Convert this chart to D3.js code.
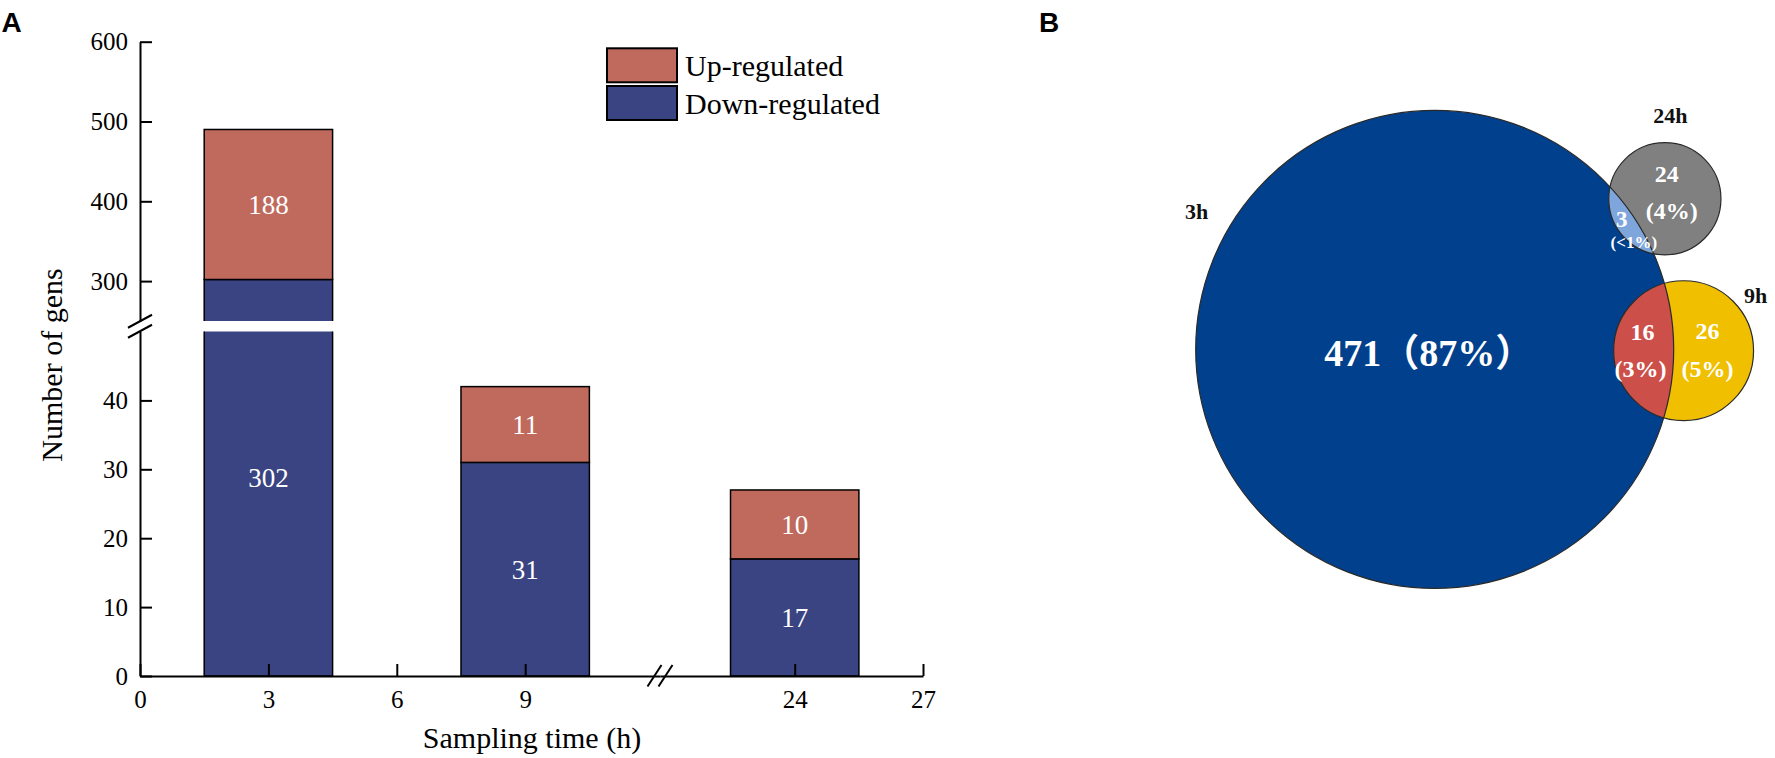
<!DOCTYPE html>
<html>
<head>
<meta charset="utf-8">
<script src="https://cdn.jsdelivr.net/npm/d3@7"></script>
<style>
  body { margin: 0; background: #fff; }
  svg { display: block; }
</style>
</head>
<body>
<svg id="chart" width="1775" height="758"></svg>
<script>
// ---- panel A data ----
var hours = [3, 9, 24];
var downRegulated = [302, 31, 17];
var upRegulated = [188, 11, 10];
var yTicksTop = [300, 400, 500, 600];
var yTicksBottom = [0, 10, 20, 30, 40];
var xTicksLeft = [0, 3, 6, 9];
var xTicksRight = [24, 27];
var legendLabels = ["Up-regulated", "Down-regulated"];

// ---- panel B data ----
var vennSets = ["3h", "24h", "9h"];
var vennUnique = [471, 24, 26];   // only 3h, only 24h, only 9h
var vennShared = [3, 16];         // 3h & 24h, 3h & 9h

var serif = "'Liberation Serif', 'Times New Roman', serif";
var upColor = "#c06a5e", downColor = "#3b4482";

var svg = d3.select("#chart");

// panel letters
svg.append("text").attr("x", 1.5).attr("y", 31.5).text("A")
  .attr("font-family", "'Liberation Sans', Arial, sans-serif").attr("font-weight", "bold").attr("font-size", 28);
svg.append("text").attr("x", 1039).attr("y", 32).text("B")
  .attr("font-family", "'Liberation Sans', Arial, sans-serif").attr("font-weight", "bold").attr("font-size", 28);

// ================= PANEL A : broken-axis stacked bars =================
// two y pieces (top 250-600, bottom 0-50) and two x pieces (0-12, 21-27)
var yTop = d3.scaleLinear().domain([250, 600]).range([321, 41.7]);
var yBot = d3.scaleLinear().domain([0, 50]).range([676, 331.5]);
var xLeft = d3.scaleLinear().domain([0, 12.15]).range([140, 660]);
var xRight = d3.scaleLinear().domain([20.85, 27]).range([660, 923]);

function xPos(h) { return h < 15 ? xLeft(h) : xRight(h); }
function screenY(v) { return v > 50 ? yTop(v) : yBot(v); }
var barW = xLeft(3) - xLeft(0);

var defs = svg.append("defs");
defs.append("clipPath").attr("id", "clipTop")
  .append("rect").attr("x", 0).attr("y", 0).attr("width", 1000).attr("height", yTop(250));
defs.append("clipPath").attr("id", "clipBot")
  .append("rect").attr("x", 0).attr("y", yBot(50)).attr("width", 1000).attr("height", 400);

// stack the segments
var segments = [];
hours.forEach(function (h, i) {
  segments.push({ h: h, y0: 0, y1: downRegulated[i], v: downRegulated[i], color: downColor });
  segments.push({ h: h, y0: downRegulated[i], y1: downRegulated[i] + upRegulated[i], v: upRegulated[i], color: upColor });
});

[[yTop, "clipTop"], [yBot, "clipBot"]].forEach(function (p) {
  var sc = p[0];
  svg.append("g").attr("clip-path", "url(#" + p[1] + ")")
    .selectAll("rect").data(segments).enter().append("rect")
    .attr("x", function (d) { return xPos(d.h) - barW / 2; })
    .attr("y", function (d) { return sc(d.y1); })
    .attr("width", barW)
    .attr("height", function (d) { return sc(d.y0) - sc(d.y1); })
    .attr("fill", function (d) { return d.color; })
    .attr("stroke", "#000").attr("stroke-width", 1.5);
});

// value labels, centred on the visible part of each segment
svg.append("g").selectAll("text").data(segments).enter().append("text")
  .attr("x", function (d) { return xPos(d.h); })
  .attr("y", function (d) { return (screenY(d.y0) + screenY(d.y1)) / 2; })
  .attr("dy", "0.35em")
  .attr("text-anchor", "middle")
  .attr("fill", "#fff")
  .attr("font-family", serif).attr("font-size", 27)
  .text(function (d) { return d.v; });

// axes
function styleAxis(g) {
  g.attr("font-family", serif).attr("font-size", 25);
  g.selectAll("path, line").attr("stroke", "#000").attr("stroke-width", 2);
  g.selectAll("text").attr("fill", "#000");
}
var fmt = d3.format("d");
svg.append("g").attr("transform", "translate(140,0)")
  .call(d3.axisLeft(yTop).tickValues(yTicksTop).tickFormat(fmt).tickSize(-12).tickSizeOuter(0).tickPadding(12))
  .call(styleAxis);
svg.append("g").attr("transform", "translate(140,0)")
  .call(d3.axisLeft(yBot).tickValues(yTicksBottom).tickFormat(fmt).tickSize(-12).tickSizeOuter(0).tickPadding(12))
  .call(styleAxis);
svg.append("g").attr("transform", "translate(0,676)")
  .call(d3.axisBottom(xLeft).tickValues(xTicksLeft).tickFormat(fmt).tickSize(-12).tickSizeOuter(0).tickPadding(14))
  .call(styleAxis);
svg.append("g").attr("transform", "translate(0,676)")
  .call(d3.axisBottom(xRight).tickValues(xTicksRight).tickFormat(fmt).tickSize(-12).tickSizeOuter(0).tickPadding(14))
  .call(styleAxis);

// break marks "//"
var yBreak = (yTop(250) + yBot(50)) / 2;
[-5, 5].forEach(function (o) {
  svg.append("line").attr("x1", 128).attr("y1", yBreak + o + 6.5).attr("x2", 152).attr("y2", yBreak + o - 6.5)
    .attr("stroke", "#000").attr("stroke-width", 2);
});
var xBreak = xLeft.range()[1];
[-5.5, 5.5].forEach(function (o) {
  svg.append("line").attr("x1", xBreak + o - 7).attr("y1", 686.5).attr("x2", xBreak + o + 7).attr("y2", 665)
    .attr("stroke", "#000").attr("stroke-width", 2);
});

// axis titles
svg.append("text").attr("x", 532).attr("y", 747.5).attr("text-anchor", "middle")
  .attr("font-family", serif).attr("font-size", 30).text("Sampling time (h)");
svg.append("text").attr("transform", "translate(61.5,365) rotate(-90)").attr("text-anchor", "middle")
  .attr("font-family", serif).attr("font-size", 30).text("Number of gens");

// legend
var legend = svg.append("g").attr("transform", "translate(607,48.3)");
legend.selectAll("rect").data(legendLabels).enter().append("rect")
  .attr("x", 0).attr("y", function (d, i) { return i * 37.7; })
  .attr("width", 70).attr("height", 34)
  .attr("fill", function (d, i) { return i === 0 ? upColor : downColor; })
  .attr("stroke", "#000").attr("stroke-width", 2);
legend.selectAll("text").data(legendLabels).enter().append("text")
  .attr("x", 78).attr("y", function (d, i) { return 28 + i * 37.7; })
  .attr("font-family", serif).attr("font-size", 30)
  .text(function (d) { return d; });

// ================= PANEL B : area-proportional Venn =================
var totals = [
  vennUnique[0] + vennShared[0] + vennShared[1],
  vennUnique[1] + vennShared[0],
  vennUnique[2] + vennShared[1]
];
var allGenes = d3.sum(vennUnique) + d3.sum(vennShared);
var rScale = d3.scaleSqrt().domain([0, totals[0]]).range([0, 239]);
var areaPerGene = Math.PI * Math.pow(rScale(totals[0]), 2) / totals[0];

function lensArea(r1, r2, d) {
  if (d >= r1 + r2) return 0;
  if (d <= Math.abs(r1 - r2)) return Math.PI * Math.pow(Math.min(r1, r2), 2);
  var a = r1 * r1 * Math.acos((d * d + r1 * r1 - r2 * r2) / (2 * d * r1));
  var b = r2 * r2 * Math.acos((d * d + r2 * r2 - r1 * r1) / (2 * d * r2));
  var c = 0.5 * Math.sqrt((-d + r1 + r2) * (d + r1 - r2) * (d - r1 + r2) * (d + r1 + r2));
  return a + b - c;
}
function distanceFor(r1, r2, target) {
  var lo = Math.abs(r1 - r2), hi = r1 + r2;
  for (var k = 0; k < 60; k++) {
    var mid = (lo + hi) / 2;
    if (lensArea(r1, r2, mid) > target) lo = mid; else hi = mid;
  }
  return (lo + hi) / 2;
}

var c0 = [1434.7, 349.4];
var angles = [null, -33.2, 0.3];   // direction of the small circles from the 3h circle
var circles = totals.map(function (t, i) {
  var r = rScale(t);
  if (i === 0) return { name: vennSets[0], cx: c0[0], cy: c0[1], r: r };
  var d = distanceFor(rScale(totals[0]), r, vennShared[i - 1] * areaPerGene);
  var a = angles[i] * Math.PI / 180;
  return { name: vennSets[i], cx: c0[0] + d * Math.cos(a), cy: c0[1] + d * Math.sin(a), r: r };
});

var vennFill = ["#01408c", "#808080", "#efbf00"];
var sharedFill = ["#7ea6dc", "#cd4f4a"];

defs.append("clipPath").attr("id", "clip3h")
  .append("circle").attr("cx", circles[0].cx).attr("cy", circles[0].cy).attr("r", circles[0].r);

var venn = svg.append("g");
venn.selectAll("circle.set").data(circles).enter().append("circle").attr("class", "set")
  .attr("cx", function (d) { return d.cx; }).attr("cy", function (d) { return d.cy; })
  .attr("r", function (d) { return d.r; })
  .attr("fill", function (d, i) { return vennFill[i]; });
venn.selectAll("circle.shared").data(circles.slice(1)).enter().append("circle").attr("class", "shared")
  .attr("cx", function (d) { return d.cx; }).attr("cy", function (d) { return d.cy; })
  .attr("r", function (d) { return d.r; })
  .attr("clip-path", "url(#clip3h)")
  .attr("fill", function (d, i) { return sharedFill[i]; });
venn.selectAll("circle.edge").data(circles).enter().append("circle").attr("class", "edge")
  .attr("cx", function (d) { return d.cx; }).attr("cy", function (d) { return d.cy; })
  .attr("r", function (d) { return d.r; })
  .attr("fill", "none").attr("stroke", "#2a2a2a").attr("stroke-width", 1.2);

function pct(v) {
  var p = v / allGenes * 100;
  return p < 1 ? "<1%" : Math.round(p) + "%";
}

// labels: [circle index, dx, dy, text, size]
var vennLabels = [
  [0, -6, 17, vennUnique[0] + "\uFF08" + pct(vennUnique[0]) + "\uFF09", 38],
  [1, 2, -16.5, vennUnique[1], 24],
  [1, 7, 20, "(" + pct(vennUnique[1]) + ")", 24],
  [1, -43, 28, vennShared[0], 23],
  [1, -31, 49, "(" + pct(vennShared[0]) + ")", 17],
  [2, -41, -11, vennShared[1], 24],
  [2, -43, 26, "(" + pct(vennShared[1]) + ")", 24],
  [2, 24, -12, vennUnique[2], 24],
  [2, 24, 26, "(" + pct(vennUnique[2]) + ")", 24]
];
venn.selectAll("text.val").data(vennLabels).enter().append("text").attr("class", "val")
  .attr("x", function (d) { return circles[d[0]].cx + d[1]; })
  .attr("y", function (d) { return circles[d[0]].cy + d[2]; })
  .attr("text-anchor", "middle")
  .attr("fill", "#fff")
  .attr("font-family", serif + ", 'Noto Sans CJK SC'")
  .attr("font-weight", "bold")
  .attr("font-size", function (d) { return d[4]; })
  .text(function (d) { return d[3]; });

// set names
var nameOffsets = [[-238, -130], [5.5, -75.5], [72, -48]];
venn.selectAll("text.name").data(circles).enter().append("text").attr("class", "name")
  .attr("x", function (d, i) { return d.cx + nameOffsets[i][0]; })
  .attr("y", function (d, i) { return d.cy + nameOffsets[i][1]; })
  .attr("text-anchor", "middle")
  .attr("fill", "#111")
  .attr("font-family", serif).attr("font-weight", "bold").attr("font-size", 22)
  .text(function (d) { return d.name; });
</script>
</body>
</html>
